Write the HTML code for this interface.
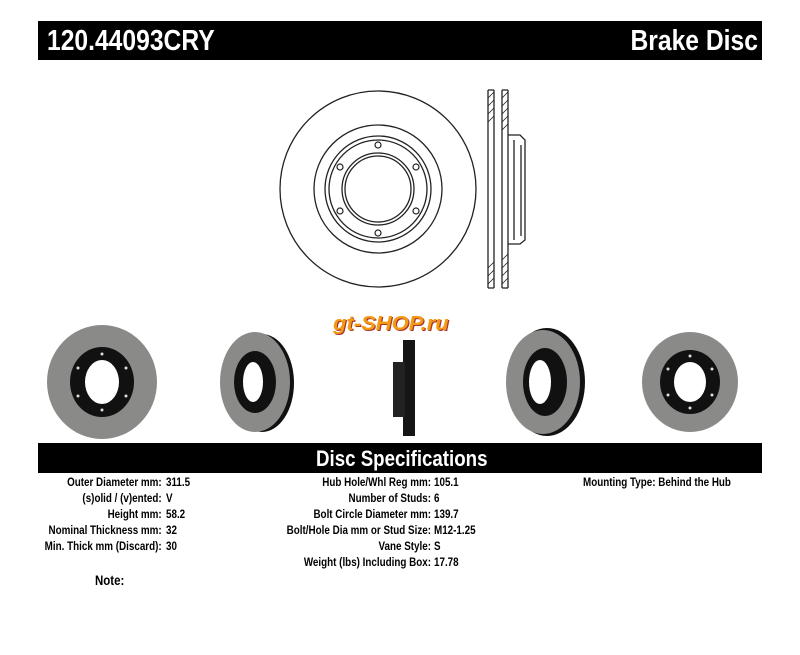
<!DOCTYPE html><html><head><style>
body{margin:0;width:800px;height:655px;background:#fff;position:relative;overflow:hidden;font-family:"Liberation Sans",sans-serif}
.bar{position:absolute;background:#000;color:#fff;font-weight:bold}
.t{position:absolute;font-weight:bold;font-size:12px;line-height:16px;white-space:nowrap;transform-origin:0 0;transform:scaleX(.82)}
.r{text-align:right;transform-origin:100% 0}
</style></head><body>
<div class="bar" style="left:38px;top:21px;width:724px;height:39px"></div>
<div class="t" style="left:47px;top:26px;font-size:29px;line-height:30px;color:#fff;transform:scaleX(.85)">120.44093CRY</div>
<div class="t r" style="right:42px;top:26px;font-size:29px;line-height:30px;color:#fff;transform:scaleX(.85)">Brake Disc</div>
<svg width="800" height="655" style="position:absolute;left:0;top:0" fill="none" stroke="#222" stroke-width="1.3">
<circle cx="378" cy="189" r="98"/><circle cx="378" cy="189" r="64"/><circle cx="378" cy="189" r="53"/><circle cx="378" cy="189" r="49"/><circle cx="378" cy="189" r="36"/><circle cx="378" cy="189" r="33"/>
<g stroke-width="1.2"><circle cx="378" cy="145" r="3"/><circle cx="378" cy="233" r="3"/><circle cx="340" cy="167" r="3"/><circle cx="416" cy="167" r="3"/><circle cx="340" cy="211" r="3"/><circle cx="416" cy="211" r="3"/></g>
<path d="M488 90V288M494 90V288M502 90V288M508 90V288M488 90H494M502 90H508M488 288H494M502 288H508"/>
<path d="M508 135H520L525 140V240L520 244H508M514 140V240M521 145V236" />
<g stroke-width=".8"><path d="M488 98L494 92M488 106L494 100M488 114L494 108M488 122L494 116M502 98L508 92M502 106L508 100M502 114L508 108M502 122L508 116M502 130L508 124M488 268L494 262M488 276L494 270M488 284L494 278M502 268L508 262M502 276L508 270M502 284L508 278M502 260L508 254"/></g>
<g stroke="none">
<ellipse cx="102" cy="382" rx="55" ry="57" fill="#8a8a88"/>
<ellipse cx="102" cy="382" rx="32" ry="35" fill="#111"/>
<ellipse cx="102" cy="382" rx="17" ry="22" fill="#fff"/>
<g fill="#ddd"><circle cx="102" cy="354" r="1.5"/><circle cx="102" cy="410" r="1.5"/><circle cx="78" cy="368" r="1.5"/><circle cx="126" cy="368" r="1.5"/><circle cx="78" cy="396" r="1.5"/><circle cx="126" cy="396" r="1.5"/></g>
<ellipse cx="262" cy="383" rx="32" ry="49" fill="#111"/>
<ellipse cx="255" cy="382" rx="35" ry="50" fill="#8a8a88"/>
<ellipse cx="255" cy="382" rx="21" ry="31" fill="#111"/>
<ellipse cx="253" cy="382" rx="10" ry="20" fill="#fff"/>
<rect x="403" y="340" width="12" height="96" fill="#151515"/>
<rect x="393" y="362" width="12" height="55" fill="#222"/>
<ellipse cx="547" cy="382" rx="38" ry="54" fill="#111"/>
<ellipse cx="543" cy="382" rx="37" ry="52" fill="#8a8a88"/>
<ellipse cx="545" cy="382" rx="22" ry="34" fill="#111"/>
<ellipse cx="540" cy="382" rx="11" ry="22" fill="#fff"/>
<ellipse cx="690" cy="382" rx="48" ry="50" fill="#8a8a88"/>
<ellipse cx="690" cy="382" rx="30" ry="32" fill="#111"/>
<ellipse cx="690" cy="382" rx="16" ry="20" fill="#fff"/>
<g fill="#ddd"><circle cx="690" cy="356" r="1.5"/><circle cx="690" cy="408" r="1.5"/><circle cx="668" cy="369" r="1.5"/><circle cx="712" cy="369" r="1.5"/><circle cx="668" cy="395" r="1.5"/><circle cx="712" cy="395" r="1.5"/></g>
</g>
</svg>
<div class="t" style="left:333px;top:313px;font-size:20px;line-height:22px;color:#f39a12;font-style:italic;transform:scaleX(1.1);text-shadow:1px 1px 0 #a33">gt-SHOP.ru</div>
<div class="bar" style="left:38px;top:443px;width:724px;height:30px"></div>
<div class="t" style="left:316px;top:447px;font-size:22px;line-height:24px;color:#fff;transform:scaleX(.85)">Disc Specifications</div>
<div class="t r" style="right:638px;top:474px">Outer Diameter mm:<br>(s)olid / (v)ented:<br>Height mm:<br>Nominal Thickness mm:<br>Min. Thick mm (Discard):</div>
<div class="t" style="left:166px;top:474px">311.5<br>V<br>58.2<br>32<br>30</div>
<div class="t r" style="right:369px;top:474px">Hub Hole/Whl Reg mm:<br>Number of Studs:<br>Bolt Circle Diameter mm:<br>Bolt/Hole Dia mm or Stud Size:<br>Vane Style:<br>Weight (lbs) Including Box:</div>
<div class="t" style="left:434px;top:474px">105.1<br>6<br>139.7<br>M12-1.25<br>S<br>17.78</div>
<div class="t" style="left:583px;top:474px">Mounting Type: Behind the Hub</div>
<div class="t" style="left:95px;top:572px;font-size:14px">Note:</div>
</body></html>
